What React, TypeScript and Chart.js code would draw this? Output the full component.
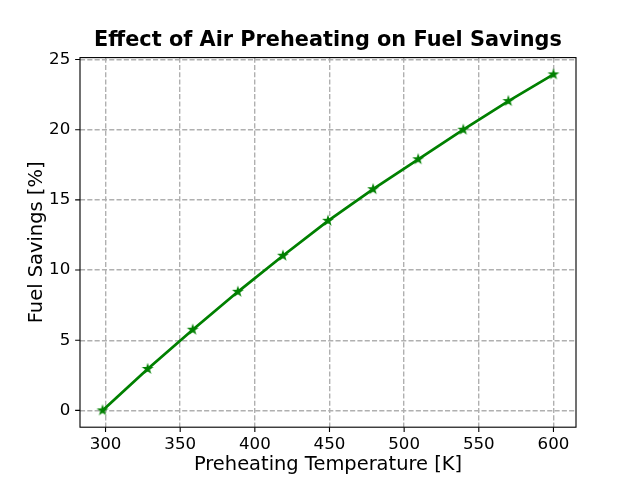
import React, { useEffect, useRef } from 'react';
import { Chart, registerables } from 'chart.js';

Chart.register(...registerables);

const temperatures = [298, 328.2, 358.4, 388.6, 418.8, 449, 479.2, 509.4, 539.6, 569.8, 600];
const fuelSavings = [0, 2.95, 5.75, 8.45, 11.02, 13.51, 15.76, 17.89, 20.0, 22.04, 23.94];
const xTicks = [300, 350, 400, 450, 500, 550, 600];
const yTicks = [0, 5, 10, 15, 20, 25];
const titleText = 'Effect of Air Preheating on Fuel Savings';
const xLabel = 'Preheating Temperature [K]';
const yLabel = 'Fuel Savings [%]';

const FONT = "'DejaVu Sans', sans-serif";

function makeStar(): HTMLCanvasElement {
  const size = 14;
  const c = document.createElement('canvas');
  c.width = size;
  c.height = size;
  const ctx = c.getContext('2d')!;
  const cx = size / 2;
  const cy = size / 2;
  const outer = 4.0;
  const inner = outer * 0.381966;
  ctx.beginPath();
  for (let i = 0; i < 10; i++) {
    const r = i % 2 === 0 ? outer : inner;
    const ang = -Math.PI / 2 + (i * Math.PI) / 5;
    const px = cx + r * Math.cos(ang);
    const py = cy + r * Math.sin(ang);
    if (i === 0) ctx.moveTo(px, py);
    else ctx.lineTo(px, py);
  }
  ctx.closePath();
  ctx.fillStyle = '#008000';
  ctx.fill();
  ctx.lineWidth = 1.39;
  ctx.lineJoin = 'miter';
  ctx.strokeStyle = '#008000';
  ctx.stroke();
  return c;
}

const framePlugin = {
  id: 'mplFrame',
  afterDraw(chart: any) {
    const { ctx, chartArea: a, scales } = chart;
    ctx.save();
    ctx.strokeStyle = '#000';
    ctx.lineWidth = 1.11;
    ctx.strokeRect(a.left, a.top, a.right - a.left, a.bottom - a.top);
    ctx.beginPath();
    for (const v of xTicks) {
      const px = scales.x.getPixelForValue(v);
      ctx.moveTo(px, a.bottom);
      ctx.lineTo(px, a.bottom + 4.86);
    }
    for (const v of yTicks) {
      const py = scales.y.getPixelForValue(v);
      ctx.moveTo(a.left, py);
      ctx.lineTo(a.left - 4.86, py);
    }
    ctx.stroke();
    ctx.restore();
  },
};

export default function App() {
  const ref = useRef<HTMLCanvasElement>(null);

  useEffect(() => {
    if (!ref.current) return;
    const xMin = Math.min(...temperatures);
    const xMax = Math.max(...temperatures);
    const yMin = Math.min(...fuelSavings);
    const yMax = Math.max(...fuelSavings);
    const xPad = (xMax - xMin) * 0.05;
    const yPad = (yMax - yMin) * 0.05;
    const star = makeStar();

    const chart = new Chart(ref.current, {
      type: 'line',
      data: {
        datasets: [
          {
            data: temperatures.map((t, i) => ({ x: t, y: fuelSavings[i] })),
            borderColor: '#008000',
            backgroundColor: '#008000',
            borderWidth: 2.78,
            pointStyle: star as any,
            pointRadius: 5,
            pointHoverRadius: 5,
            tension: 0,
            fill: false,
          },
        ],
      },
      options: {
        responsive: false,
        animation: false,
        layout: { padding: { left: 0, right: 64, top: 0, bottom: 0 } },
        plugins: {
          legend: { display: false },
          tooltip: { enabled: false },
          title: {
            display: true,
            text: titleText,
            fullSize: false,
            color: '#000',
            font: { family: FONT, size: 20.83, weight: 'bold', lineHeight: 1.2 },
            padding: { top: 28.5, bottom: 4.1 },
          },
        },
        scales: {
          x: {
            type: 'linear',
            min: xMin - xPad,
            max: xMax + xPad,
            afterFit: (s: any) => {
              s.height = 52.8;
            },
            afterBuildTicks: (s: any) => {
              s.ticks = xTicks.map((v) => ({ value: v }));
            },
            ticks: {
              color: '#000',
              font: { family: FONT, size: 16.67, lineHeight: 1.2 },
              padding: 7.5,
              maxRotation: 0,
              autoSkip: false,
              callback: (v: any) => String(v),
            },
            grid: {
              color: '#b0b0b0',
              lineWidth: 1.39,
              drawTicks: false,
            },
            border: { display: false, dash: [5.1, 2.2] },
            title: {
              display: true,
              text: xLabel,
              color: '#000',
              font: { family: FONT, size: 19.44, lineHeight: 1.2 },
              padding: { top: 0, bottom: 3.2 },
            },
          },
          y: {
            type: 'linear',
            min: yMin - yPad,
            max: yMax + yPad,
            afterFit: (s: any) => {
              s.width = 80;
            },
            afterBuildTicks: (s: any) => {
              s.ticks = yTicks.map((v) => ({ value: v }));
            },
            ticks: {
              color: '#000',
              font: { family: FONT, size: 16.67, lineHeight: 1.2 },
              padding: 9.7,
              autoSkip: false,
              callback: (v: any) => String(v),
            },
            grid: {
              color: '#b0b0b0',
              lineWidth: 1.39,
              drawTicks: false,
            },
            border: { display: false, dash: [5.1, 2.2] },
            title: {
              display: true,
              text: yLabel,
              color: '#000',
              font: { family: FONT, size: 19.44, lineHeight: 1.2 },
              padding: { top: 25, bottom: 0 },
            },
          },
        },
      },
      plugins: [framePlugin],
    });
    return () => chart.destroy();
  }, []);

  return (
    <div style={{ position: 'absolute', left: 0, top: 0, width: 640, height: 480, background: '#fff' }}>
      <canvas ref={ref} width={640} height={480} />
    </div>
  );
}
